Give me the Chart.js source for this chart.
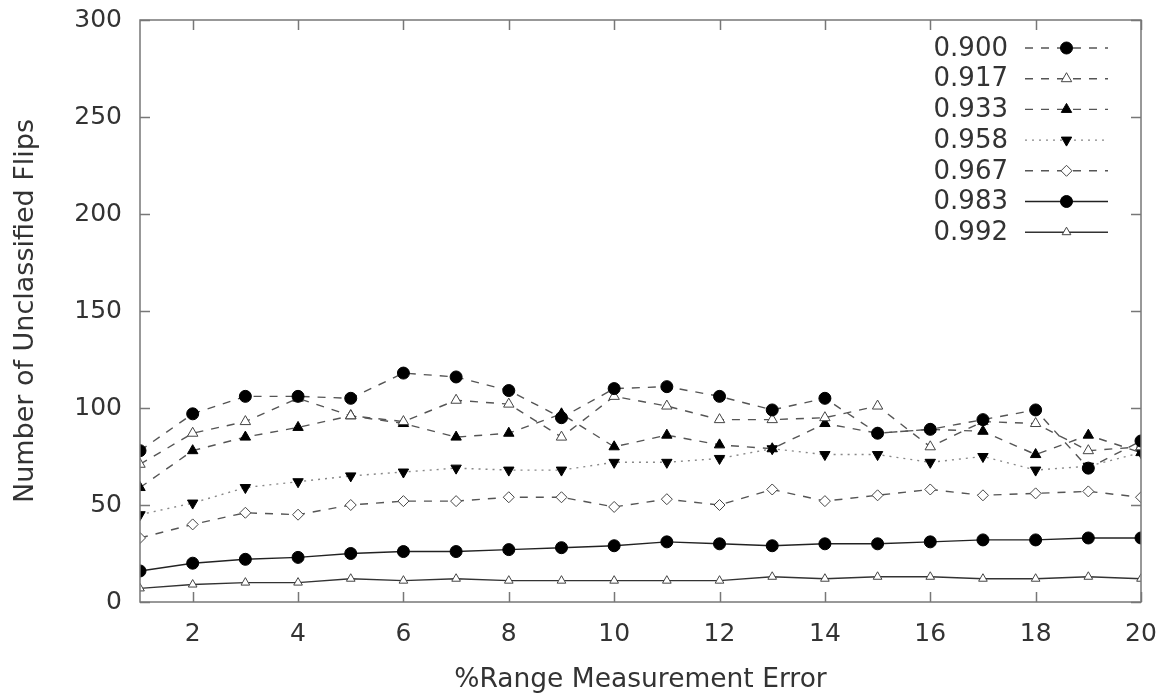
<!DOCTYPE html>
<html>
<head>
<meta charset="utf-8">
<title>Unclassified Flips vs Range Error</title>
<script src="https://cdn.jsdelivr.net/npm/chart.js@4.4.1/dist/chart.umd.min.js"></script>
<style>
  html, body { margin: 0; padding: 0; background: #fff; }
  #wrap { width: 1169px; height: 698px; }
</style>
</head>
<body>
<div id="wrap"><canvas id="flips" width="1169" height="698"></canvas></div>
<script>
/* ===== Data ===== */
const errorPct = [1, 2, 3, 4, 5, 6, 7, 8, 9, 10, 11, 12, 13, 14, 15, 16, 17, 18, 19, 20];
const xTicks = [2, 4, 6, 8, 10, 12, 14, 16, 18, 20];
const yTicks = [0, 50, 100, 150, 200, 250, 300];

const thresholds = ["0.900", "0.917", "0.933", "0.958", "0.967", "0.983", "0.992"];

const flips900 = [78, 97, 106, 106, 105, 118, 116, 109, 95, 110, 111, 106, 99, 105, 87, 89, 94, 99, 69, 83];
const flips917 = [71, 87, 93, 105, 96, 93, 104, 102, 85, 106, 101, 94, 94, 95, 101, 80, 93, 92, 78, 80];
const flips933 = [59, 78, 85, 90, 96, 92, 85, 87, 97, 80, 86, 81, 79, 92, 87, 89, 88, 76, 86, 77];
const flips958 = [45, 51, 59, 62, 65, 67, 69, 68, 68, 72, 72, 74, 79, 76, 76, 72, 75, 68, 70, 77];
const flips967 = [33, 40, 46, 45, 50, 52, 52, 54, 54, 49, 53, 50, 58, 52, 55, 58, 55, 56, 57, 54];
const flips983 = [16, 20, 22, 23, 25, 26, 26, 27, 28, 29, 31, 30, 29, 30, 30, 31, 32, 32, 33, 33];
const flips992 = [7, 9, 10, 10, 12, 11, 12, 11, 11, 11, 11, 11, 13, 12, 13, 13, 12, 12, 13, 12];

/* ===== Styles ===== */
const FONT = "'DejaVu Sans', sans-serif";
const TEXT = "#333";
const DASH = [8, 8];
const DOT = [2, 5];

function pts(ys) { return errorPct.map((x, i) => ({ x: x, y: ys[i] })); }

function series(label, ys, o) {
  return {
    label: label,
    data: pts(ys),
    borderColor: o.line,
    borderWidth: o.width || 1.4,
    borderDash: o.dash || [],
    pointStyle: o.shape,
    pointRotation: o.rot || 0,
    pointRadius: o.r || 5.5,
    pointBackgroundColor: o.fill,
    pointBorderColor: o.edge || "#111",
    pointBorderWidth: 1,
    tension: 0,
    fill: false
  };
}

const datasets = [
  series(thresholds[0], flips900, { line: "#555", dash: DASH, shape: "circle", fill: "#000", edge: "#000", r: 6 }),
  series(thresholds[1], flips917, { line: "#555", dash: DASH, shape: "triangle", fill: "#fff", edge: "#444", r: 6 }),
  series(thresholds[2], flips933, { line: "#555", dash: DASH, shape: "triangle", fill: "#000", edge: "#000", r: 6 }),
  series(thresholds[3], flips958, { line: "#888", dash: DOT, shape: "triangle", rot: 180, fill: "#000", edge: "#000", r: 6 }),
  series(thresholds[4], flips967, { line: "#555", dash: DASH, shape: "rectRot", fill: "#fff", edge: "#444", r: 5.5 }),
  series(thresholds[5], flips983, { line: "#222", shape: "circle", fill: "#000", edge: "#000", r: 6 }),
  series(thresholds[6], flips992, { line: "#333", shape: "triangle", fill: "#fff", edge: "#444", r: 5 })
];

/* ===== Plugins ===== */
// gnuplot-like box with inward ticks on all four sides
const framePlugin = {
  id: "frame",
  afterDatasetsDraw(chart) {
    const { ctx, chartArea: a, scales } = chart;
    const t = 10;
    ctx.save();
    ctx.strokeStyle = "#777";
    ctx.lineWidth = 1.5;
    ctx.beginPath();
    xTicks.forEach(v => {
      const px = Math.round(scales.x.getPixelForValue(v)) + 0.5;
      ctx.moveTo(px, a.bottom); ctx.lineTo(px, a.bottom - t);
      ctx.moveTo(px, a.top); ctx.lineTo(px, a.top + t);
    });
    yTicks.forEach(v => {
      const py = Math.round(scales.y.getPixelForValue(v)) + 0.5;
      ctx.moveTo(a.left, py); ctx.lineTo(a.left + t, py);
      ctx.moveTo(a.right, py); ctx.lineTo(a.right - t, py);
    });
    ctx.stroke();
    ctx.strokeRect(a.left, a.top, a.right - a.left, a.bottom - a.top);
    ctx.restore();
  }
};

// key in the top-right corner: label first, then line sample with marker
const keyPlugin = {
  id: "key",
  afterDatasetsDraw(chart) {
    const { ctx, chartArea: a } = chart;
    const textRight = a.right - 133;
    const lineL = a.right - 116, lineR = a.right - 33;
    const midX = (lineL + lineR) / 2;
    const rowH = 30.7;
    ctx.save();
    ctx.font = "26px " + FONT;
    ctx.textAlign = "right";
    ctx.textBaseline = "middle";
    chart.data.datasets.forEach((ds, i) => {
      const y = a.top + 28 + i * rowH;
      // white backing so the key sits over the data cleanly
      ctx.fillStyle = "#fff";
      ctx.fillRect(textRight - 80, y - 14, lineR - textRight + 84, rowH);
    });
    chart.data.datasets.forEach((ds, i) => {
      const y = a.top + 28 + i * rowH;
      ctx.fillStyle = TEXT;
      ctx.fillText(ds.label, textRight, y + 1);
      ctx.strokeStyle = ds.borderColor;
      ctx.lineWidth = ds.borderWidth;
      ctx.setLineDash(ds.borderDash);
      ctx.beginPath();
      ctx.moveTo(lineL, y); ctx.lineTo(lineR, y);
      ctx.stroke();
      ctx.setLineDash([]);
      ctx.fillStyle = ds.pointBackgroundColor;
      ctx.strokeStyle = ds.pointBorderColor;
      ctx.lineWidth = 1;
      Chart.helpers.drawPoint(ctx, {
        pointStyle: ds.pointStyle,
        rotation: ds.pointRotation,
        radius: ds.pointRadius,
        borderWidth: 1
      }, midX, y);
    });
    ctx.restore();
  }
};

/* ===== Chart ===== */
const chart = new Chart(document.getElementById("flips").getContext("2d"), {
  type: "line",
  data: { datasets: datasets },
  plugins: [framePlugin, keyPlugin],
  options: {
    responsive: false,
    animation: false,
    layout: { padding: { left: 0, top: 20, right: 28, bottom: 0 } },
    plugins: { legend: { display: false }, tooltip: { enabled: false } },
    scales: {
      x: {
        type: "linear",
        min: 1,
        max: 20,
        afterBuildTicks: s => { s.ticks = xTicks.map(v => ({ value: v })); },
        afterFit: s => { s.height = 96; s.paddingLeft = 0; s.paddingRight = 0; },
        grid: { display: false, drawTicks: false },
        border: { display: false },
        ticks: { color: TEXT, font: { family: FONT, size: 25 }, padding: 17, maxRotation: 0 },
        title: {
          display: true,
          text: "%Range Measurement Error",
          color: TEXT,
          font: { family: FONT, size: 26.5 },
          padding: { top: 0, bottom: 2 }
        }
      },
      y: {
        min: 0,
        max: 300,
        afterBuildTicks: s => { s.ticks = yTicks.map(v => ({ value: v })); },
        afterFit: s => { s.width = 140; s.paddingTop = 0; s.paddingBottom = 0; },
        grid: { display: false, drawTicks: false },
        border: { display: false },
        ticks: { color: TEXT, font: { family: FONT, size: 25 }, padding: 18 },
        title: {
          display: true,
          text: "Number of Unclassified Flips",
          color: TEXT,
          font: { family: FONT, size: 27 },
          padding: { top: 10, bottom: 0 }
        }
      }
    }
  }
});
</script>
</body>
</html>
